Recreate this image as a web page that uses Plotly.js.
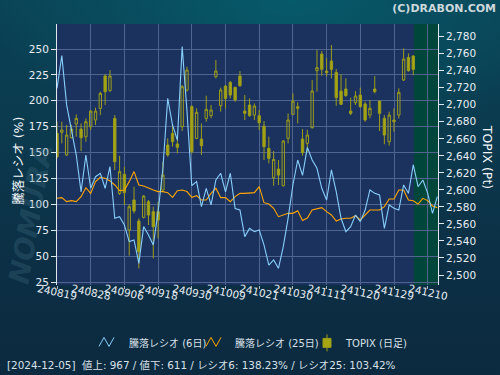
<!DOCTYPE html>
<html>
<head>
<meta charset="utf-8">
<script src="https://cdn.plot.ly/plotly-3.0.1.min.js"></script>
<style>
html,body{margin:0;padding:0;background:#0c2c42;}
#chart{width:500px;height:375px;
background:
 radial-gradient(ellipse 60% 40% at 58% 0%, rgba(6,92,108,0.9) 0%, rgba(6,92,108,0) 100%),
 linear-gradient(180deg,#0a4356 0%,#0b3a4e 35%,#0c2f45 70%,#0c2a3f 100%);}
</style>
</head>
<body>
<div id="chart"></div>
<script>
// ---- data ----
const dates = ['240819','240820','240821','240822','240823','240826','240827','240828','240829','240830',
'240902','240903','240904','240905','240906','240909','240910','240911','240912','240913',
'240917','240918','240919','240920','240924','240925','240926','240927','240930',
'241001','241002','241003','241004','241007','241008','241009','241010','241011',
'241015','241016','241017','241018','241021','241022','241023','241024','241025','241028','241029','241030','241031',
'241101','241105','241106','241107','241108','241111','241112','241113','241114','241115','241118','241119','241120','241121','241122','241125','241126','241127','241128','241129',
'241202','241203','241204','241205','241206','241209','241210','241211','241212'];

const ratio6 = [212,243.6,196,170,147.6,112,147.6,115.5,126.7,130,
115.5,136.4,86.5,88,80,64,65.6,43,78.5,70.4,
60.7,93,134.8,202.4,176.6,162,252.3,190,118,122,
97.8,115.5,99.4,123.5,130,112,130,96,94.5,68.8,
76.8,73.6,75.2,60.7,41.4,46.3,38.2,59.1,86.5,118.7,
142.8,128,155,142.8,134.8,115.5,104.2,133.2,112.2,86.5,
73.6,78.5,89.7,83.3,94.5,113.9,110.6,109,76.8,99.4,
96.2,94.5,118.7,110.6,138.23,117,123.5,110.6,91.3,107.4];

const ratio25 = [105.8,106.5,102.6,103.6,102.6,107.4,116.1,110.6,121.9,126.1,
125.1,122.6,118.7,113.2,113.9,121.9,131.6,118.7,117.7,115.5,
113.9,112.3,112.3,111.3,106.8,113.2,113.9,112.3,106.8,108.4,
104.2,104.2,110.6,115.5,106.5,106.5,102.6,107.4,110.6,110.6,
110.6,111.3,117.1,101.6,100.3,96.2,88.1,89.7,91.3,91.3,
93.9,84.4,86.8,94.5,95.5,96.8,92.9,89.7,83.9,85.9,
86.5,86.5,89,84.9,89.7,94.5,94.5,94.5,97.8,105.2,
105.2,113.9,113.9,104.2,103.42,100.3,105.8,103.6,98.4,96.8];

const topixOpen = [2666.4,2667.6,2641.0,2661.3,2677.4,2671.5,2662.5,2674.2,2682.1,2695.8,
2733.8,2716.5,2684.0,2595.9,2618.2,2552.8,2588.1,2563.4,2567.7,2586.1,
2574.4,2574.4,2599.8,2652.7,2666.4,2653.9,2674.2,2717.3,2697.7,2660.5,
2659.7,2684.0,2687.2,2733.0,2698.9,2722.0,2726.3,2720.5,2733.8,2692.6,
2699.7,2687.9,2687.2,2675.0,2648.8,2614.3,2624.5,2604.9,2660.5,2688.7,
2697.7,2659.7,2654.6,2673.0,2740.0,2759.6,2739.6,2751.4,2738.1,2716.1,
2718.5,2692.6,2702.4,2711.4,2700.9,2687.9,2718.5,2704.4,2684.0,2656.6,
2682.1,2687.9,2729.1,2755.7,2757.3];
const topixHigh = [2680.1,2680.1,2676.2,2676.2,2688.7,2678.1,2684.0,2693.8,2696.6,2715.4,
2735.7,2740.8,2687.9,2640.0,2627.2,2583.0,2603.7,2566.5,2594.0,2588.1,
2580.2,2586.1,2633.1,2660.5,2676.2,2660.5,2723.2,2744.7,2699.7,2695.8,
2678.1,2710.7,2699.7,2752.6,2720.1,2723.2,2727.9,2721.2,2739.6,2711.4,
2707.5,2701.6,2693.8,2680.9,2662.5,2645.6,2635.1,2658.6,2689.9,2713.4,
2702.8,2671.5,2670.7,2729.1,2764.3,2763.1,2754.5,2770.2,2742.0,2735.7,
2731.0,2708.3,2716.1,2720.1,2703.6,2705.6,2733.8,2704.8,2687.9,2691.9,
2695.8,2719.3,2766.3,2760.4,2758.4];
const topixLow = [2637.0,2654.6,2640.0,2660.5,2662.5,2645.6,2656.6,2670.3,2676.2,2687.9,
2699.7,2715.4,2623.3,2594.0,2582.2,2522.7,2572.4,2507.8,2566.5,2558.7,
2519.5,2543.0,2597.9,2639.0,2650.7,2642.9,2669.1,2715.4,2642.9,2659.7,
2641.0,2680.1,2684.0,2731.0,2691.9,2695.8,2707.5,2703.6,2721.2,2682.1,
2686.0,2682.1,2670.3,2635.1,2631.1,2604.9,2605.7,2604.0,2654.6,2687.9,
2678.1,2640.2,2644.9,2672.3,2715.4,2734.2,2733.0,2731.0,2698.9,2699.7,
2709.5,2687.9,2699.7,2696.6,2680.1,2684.0,2713.4,2669.1,2653.5,2651.9,
2668.4,2684.0,2727.9,2738.9,2735.0];
const topixClose = [2639.0,2670.3,2664.4,2671.5,2684.0,2661.3,2680.1,2692.6,2692.6,2713.4,
2715.4,2733.8,2633.1,2621.4,2596.7,2580.2,2575.1,2527.3,2592.7,2570.4,
2556.7,2564.6,2617.4,2641.0,2656.6,2650.0,2721.2,2740.8,2644.9,2691.1,
2651.9,2694.6,2693.8,2739.6,2717.3,2707.5,2711.4,2705.6,2722.4,2689.9,
2687.2,2698.5,2679.0,2650.7,2637.0,2635.8,2617.4,2657.4,2682.1,2704.4,
2695.8,2643.7,2664.4,2716.1,2743.6,2741.6,2737.7,2741.6,2708.3,2700.5,
2710.7,2689.9,2710.3,2697.7,2682.1,2695.8,2715.4,2689.9,2664.4,2687.9,
2680.1,2714.6,2753.7,2740.0,2741.6];

const tickDates = ['240819','240828','240906','240918','240930','241009','241021','241030','241111','241120','241129','241210'];
const leftTicks = [25,50,75,100,125,150,175,200,225,250];
const rightTicks = [2500,2520,2540,2560,2580,2600,2620,2640,2660,2680,2700,2720,2740,2760,2780];

const legendNames = ['騰落レシオ (6日)','騰落レシオ (25日)','TOPIX (日足)'];
const statusText = '[2024-12-05]  値上: 967 / 値下: 611 / レシオ6: 138.23% / レシオ25: 103.42%';
const lastDataIndex = topixClose.length - 1;

// ---- layout helpers (pixel -> paper) ----
const L = 57, R = 438, T = 24, B = 285.5;
const px = x => (x - L) / (R - L);
const py = y => (B - y) / (B - T);

const FONT = 'DejaVu Sans, Noto Sans CJK JP, sans-serif';
const OLIVE = '#a6a612';
const OLIVE_LINE = '#9c9c1a';

const traces = [
  {
    type: 'candlestick', x: dates.slice(0, topixClose.length),
    open: topixOpen, high: topixHigh, low: topixLow, close: topixClose,
    xaxis: 'x', yaxis: 'y',
    increasing: {line: {color: OLIVE_LINE, width: 1}, fillcolor: 'rgba(0,0,0,0)'},
    decreasing: {line: {color: OLIVE_LINE, width: 1}, fillcolor: OLIVE},
    whiskerwidth: 0, showlegend: false, hoverinfo: 'skip'
  },
  {
    type: 'scatter', mode: 'lines', x: dates, y: ratio25, yaxis: 'y2',
    line: {color: '#ffa500', width: 1.1}, showlegend: false, hoverinfo: 'skip'
  },
  {
    type: 'scatter', mode: 'lines', x: dates, y: ratio6, yaxis: 'y2',
    line: {color: '#87cefa', width: 1.1}, showlegend: false, hoverinfo: 'skip'
  }
];

const annotations = [];
// watermark (drawn first, faint)
annotations.push({x: px(31), y: py(215), xref: 'paper', yref: 'paper', text: 'NOMURA',
  xanchor: 'center', yanchor: 'middle',
  textangle: -80, showarrow: false,
  font: {family: 'DejaVu Sans', size: 28, color: 'rgba(70,115,135,0.3)', weight: 'bold', style: 'italic'}});
tickDates.forEach(d => annotations.push({
  x: dates.indexOf(d), xref: 'x', y: py(293), yref: 'paper', text: d, showarrow: false,
  textangle: 12, xanchor: 'center', yanchor: 'middle',
  font: {family: FONT, size: 10.5, color: '#e6ecf2'}
}));
// axis titles
annotations.push({x: px(19), y: py(161), xref: 'paper', yref: 'paper', text: '騰落レシオ (%)',
  xanchor: 'center', yanchor: 'middle',
  textangle: -90, showarrow: false, font: {family: FONT, size: 12.5, color: '#f2f6fa'}});
annotations.push({x: px(487), y: py(157), xref: 'paper', yref: 'paper', text: 'TOPIX (Pt)',
  xanchor: 'center', yanchor: 'middle',
  textangle: 90, showarrow: false, font: {family: FONT, size: 12.5, color: '#f2f6fa'}});
// legend texts
const legendX = [127, 233, 343];
legendNames.forEach((n, i) => annotations.push({
  x: px(legendX[i]), y: py(344), xref: 'paper', yref: 'paper', text: n, showarrow: false,
  xanchor: 'left', yanchor: 'middle', font: {family: FONT, size: 10, color: '#d8e0e8'}
}));
// status line
annotations.push({x: px(5), y: py(366), xref: 'paper', yref: 'paper', text: statusText, showarrow: false,
  xanchor: 'left', yanchor: 'middle', font: {family: FONT, size: 10.4, color: '#d8e0e8'}});

function zig(x0, color) {
  const p = [[x0, 347], [x0 + 5, 338], [x0 + 10, 347], [x0 + 15, 338]];
  return {type: 'path', xref: 'paper', yref: 'paper',
    path: 'M' + p.map(q => px(q[0]) + ',' + py(q[1])).join(' L'),
    line: {color: color, width: 1}};
}
const shapes = [
  {type: 'rect', xref: 'x', yref: 'paper', x0: lastDataIndex + 0.1, x1: dates.length + 1, y0: 0, y1: 1,
   fillcolor: '#00463a', line: {width: 0}, layer: 'below'},
  zig(99, '#87cefa'),
  zig(206, '#ffa500'),
  {type: 'line', xref: 'paper', yref: 'paper', x0: px(327), x1: px(327), y0: py(335), y1: py(352),
   line: {color: OLIVE_LINE, width: 1}},
  {type: 'rect', xref: 'paper', yref: 'paper', x0: px(323), x1: px(331), y0: py(339), y1: py(348),
   fillcolor: OLIVE, line: {color: OLIVE_LINE, width: 1}}
];

const layout = {
  width: 500, height: 375,
  margin: {l: L, r: 500 - R, t: T, b: 375 - B},
  paper_bgcolor: 'rgba(0,0,0,0)', plot_bgcolor: '#1b325f',
  title: {text: '(C)DRABON.COM', x: 0.992, xanchor: 'right', y: 0.979, yanchor: 'middle',
    font: {family: 'DejaVu Sans', size: 11, color: '#cdd8dc', weight: 'bold'}},
  showlegend: false, hovermode: false,
  xaxis: {
    type: 'category', categoryorder: 'array', categoryarray: dates,
    range: [0, 79.14], tickmode: 'array', tickvals: tickDates, showticklabels: false,
    ticks: 'outside', ticklen: 3, tickcolor: '#a8b8cc',
    showgrid: true, gridcolor: '#4f6590', gridwidth: 1, zeroline: false, showline: false,
    rangeslider: {visible: false}, fixedrange: true
  },
  yaxis: {
    side: 'right', range: [2488.25, 2794.9], tickmode: 'array', tickvals: rightTicks,
    tickformat: ',d', showgrid: false, zeroline: false, showline: true, linecolor: '#dfe7ef', linewidth: 1,
    ticks: 'outside', ticklen: 5, tickcolor: '#dfe7ef',
    tickfont: {family: FONT, size: 10.5, color: '#e8eef4'}, fixedrange: true
  },
  yaxis2: {
    side: 'left', overlaying: 'y', range: [22.1, 274.14], tickmode: 'array', tickvals: leftTicks,
    showgrid: true, gridcolor: '#4f6590', gridwidth: 1, zeroline: false,
    showline: true, linecolor: '#dfe7ef', linewidth: 1,
    ticks: 'outside', ticklen: 5, tickcolor: '#dfe7ef',
    tickfont: {family: FONT, size: 10.5, color: '#e8eef4'}, fixedrange: true
  },
  annotations: annotations,
  shapes: shapes
};

Plotly.newPlot('chart', traces, layout, {staticPlot: true, displayModeBar: false});
</script>
</body>
</html>
